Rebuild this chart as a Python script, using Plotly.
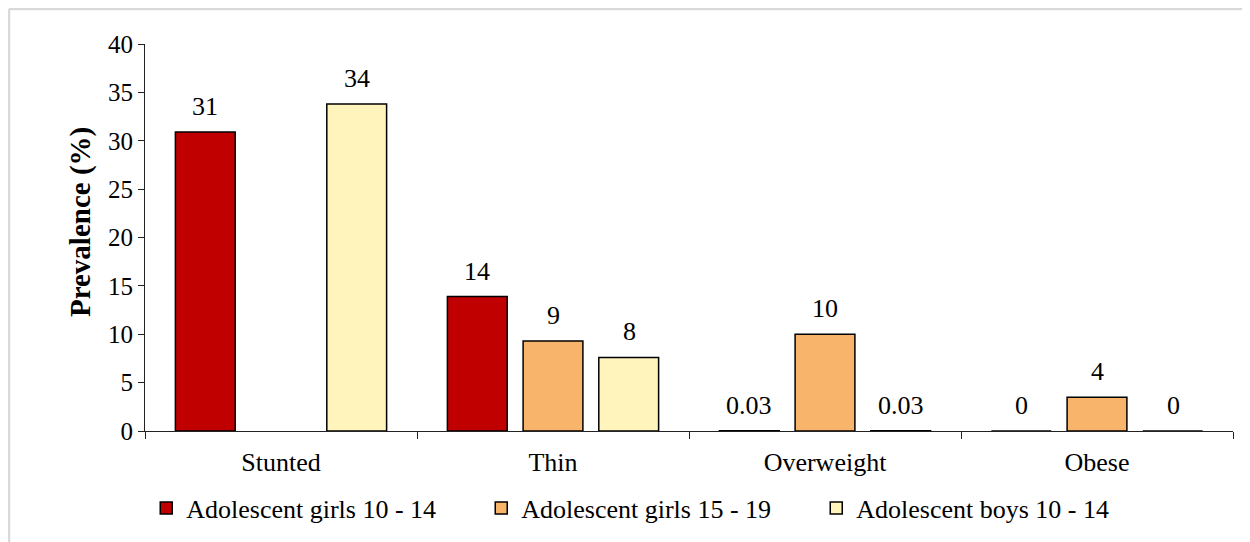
import plotly.graph_objects as go

categories = ["Stunted", "Thin", "Overweight", "Obese"]
series_names = ["Adolescent girls 10 - 14", "Adolescent girls 15 - 19", "Adolescent boys 10 - 14"]
girls_10_14 = [30.9, 13.9, 0.03, 0]
girls_15_19 = [None, 9.3, 10.0, 3.5]
boys_10_14 = [33.8, 7.6, 0.03, 0]
girls_10_14_labels = ["31", "14", "0.03", "0"]
girls_15_19_labels = [None, "9", "10", "4"]
boys_10_14_labels = ["34", "8", "0.03", "0"]

colors = ["#C00000", "#F8B46A", "#FEF4BC"]
font = "Times New Roman"

all_values = [girls_10_14, girls_15_19, boys_10_14]
all_labels = [girls_10_14_labels, girls_15_19_labels, boys_10_14_labels]

fig = go.Figure()
for name, vals, col in zip(series_names, all_values, colors):
    fig.add_trace(go.Bar(x=categories, y=vals, name=name,
                         marker=dict(color=col, line=dict(color="black", width=1.5))))

# data labels above each bar
shifts = [-76, 0, 76]
for vals, labs, sh in zip(all_values, all_labels, shifts):
    for cat, v, lab in zip(categories, vals, labs):
        if lab is None:
            continue
        fig.add_annotation(x=cat, y=v, text=lab, showarrow=False, xshift=sh,
                           yanchor="bottom", yshift=9,
                           font=dict(family=font, size=26, color="black"))

# y axis title (sits a little above the plot centre in the original)
fig.add_annotation(xref="paper", yref="paper", x=-0.0597, y=0.54, text="<b>Prevalence (%)</b>",
                   textangle=-90, showarrow=False, xanchor="center", yanchor="middle",
                   font=dict(family=font, size=29, color="black"))

# light grey chart-area border (top and left)
fig.add_shape(type="line", xref="paper", yref="paper", x0=-0.125, x1=1.05,
              y0=1.0904, y1=1.0904, line=dict(color="#D9D9D9", width=2.5))
fig.add_shape(type="line", xref="paper", yref="paper", x0=-0.125, x1=-0.125,
              y0=1.0904, y1=-0.3, line=dict(color="#D9D9D9", width=2.5))

fig.update_layout(
    width=1242, height=534,
    margin=dict(l=137, r=17, t=36, b=111, autoexpand=False),
    paper_bgcolor="white", plot_bgcolor="white",
    barmode="group", bargap=0.165, bargroupgap=0.21,
    font=dict(family=font, size=26, color="black"),
    showlegend=True,
    legend=dict(orientation="h", x=0.463, xanchor="center", y=-0.199, yanchor="middle",
                font=dict(family=font, size=26, color="black"), entrywidth=290),
    xaxis=dict(showline=True, linecolor="#222", linewidth=1.2, ticks="outside",
               tickson="boundaries", ticklen=7, tickcolor="#222",
               tickfont=dict(family=font, size=26), ticklabelstandoff=8,
               showgrid=False, automargin=False),
    yaxis=dict(range=[0, 40], dtick=5, showline=True, linecolor="#222", linewidth=1.2,
               ticks="outside", ticklen=6, tickcolor="#222", showgrid=False,
               zeroline=False, tickfont=dict(family=font, size=25), automargin=False),
)

fig.write_html("out.html")
